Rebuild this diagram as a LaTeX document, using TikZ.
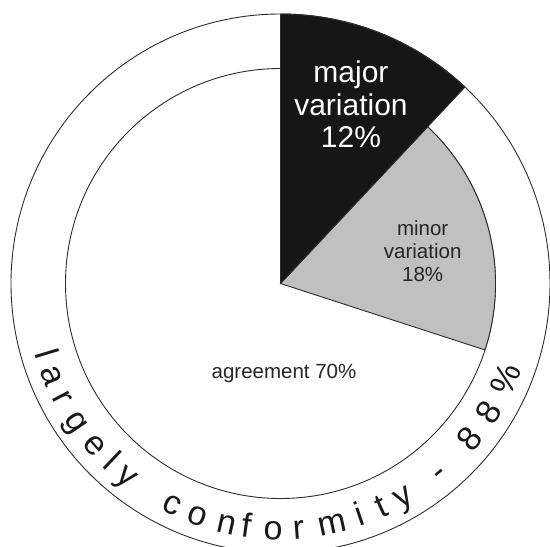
\documentclass[tikz,border=0pt]{standalone}
\usepackage{fontspec}
\setmainfont{Liberation Sans}
\definecolor{MajorBlack}{RGB}{22,22,22}
\definecolor{MinorGrey}{RGB}{192,192,192}
\definecolor{LineGrey}{RGB}{45,45,45}
\begin{document}
\begin{tikzpicture}[
  x=1pt, y=1pt,
  line/.style={draw=LineGrey, line width=0.9pt},
  pielabel/.style={align=center, text=black!85, font=\fontsize{20.5}{23}\selectfont, inner sep=0pt},
  ringletter/.style={anchor=base, inner sep=0pt, text=black!90, font=\fontsize{34}{34}\selectfont}
]
\useasboundingbox (-280.5,-263.5) rectangle (269.5,283.5);

% agreement: the whole inner disc
\draw[line, fill=white] (0,0) circle (215);
% minor variation
\draw[line, fill=MinorGrey] (0,0) -- (-18:215) arc (-18:46.8:215) -- cycle;
% major variation reaches the outer ring
\draw[line, fill=MajorBlack] (0,0) -- (46.8:269.5) arc (46.8:90:269.5) -- cycle;
\draw[line] (0,0) circle (269.5);

\node[pielabel, text=white, font=\fontsize{30}{32.5}\selectfont] (major) at (70.5,179) {major\\variation\\12\%};
\node[pielabel] (minor) at (142.2,32) {minor\\variation\\18\%};
\node[pielabel, anchor=base] (agree) at (3.5,-94.5) {agreement 70\%};

% ring text, one letter at a time
\foreach \ang/\ch [count=\i] in {196.7/l, 201.9/a, 207.7/r, 214.2/g, 221.1/e, 226.5/l, 231.5/y,
    244.0/c, 250.4/o, 257.3/n, 262.1/f, 268.3/o, 274.2/r, 282.1/m, 288.9/i, 294.2/t, 299.8/y,
    310.0/-, 320.5/8, 328.2/8, 337.0/\%}
  \node[ringletter, rotate=\ang+90] (ring\i) at (\ang:256) {\ch};
\end{tikzpicture}
\end{document}
